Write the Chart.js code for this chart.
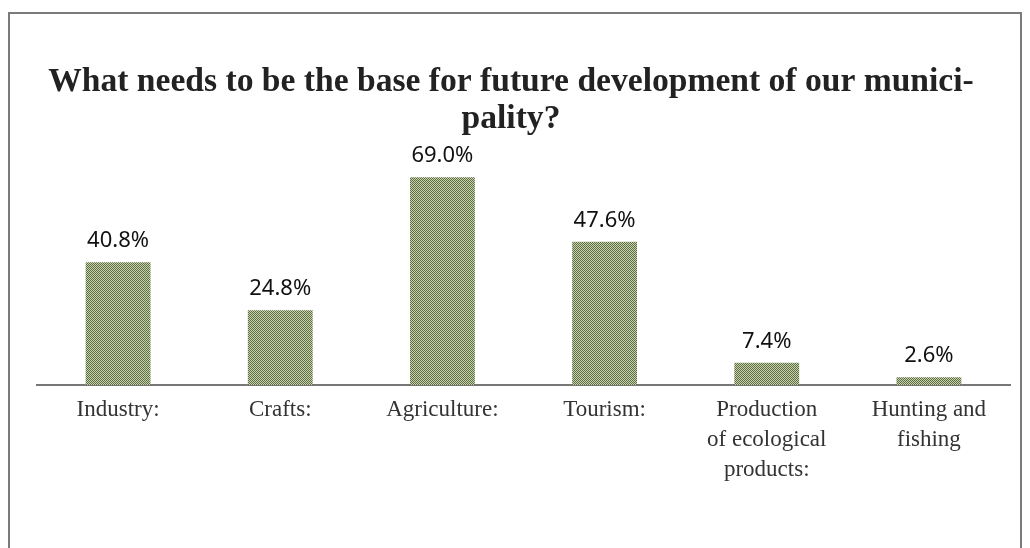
<!DOCTYPE html>
<html>
<head>
<meta charset="utf-8">
<script src="https://cdn.jsdelivr.net/npm/chart.js@4"></script>
<style>
  html, body { margin: 0; padding: 0; background: #fff; }
  #wrap { position: relative; width: 1030px; height: 548px; overflow: hidden; }
  #frame { position: absolute; left: 8px; top: 12px; width: 1014px; height: 560px; border: 2px solid #7b7b7b; box-sizing: border-box; }
  #chart { position: absolute; left: 0; top: 0; }
</style>
</head>
<body>
<div id="wrap">
  <div id="frame"></div>
  <canvas id="chart" width="1030" height="548"></canvas>
</div>
<script>
// Datos del gráfico
const categories = [
  'Industry:',
  'Crafts:',
  'Agriculture:',
  'Tourism:',
  ['Production', 'of ecological', 'products:'],
  ['Hunting and', 'fishing']
];
const shares = [40.8, 24.8, 69.0, 47.6, 7.4, 2.6];
const titleLines = ['What needs to be the base for future development of our munici-', 'pality?'];

// Trama punteada verde para las barras
function makePattern() {
  const c = document.createElement('canvas');
  c.width = 4; c.height = 4;
  const g = c.getContext('2d');
  for (let y = 0; y < 4; y++) {
    for (let x = 0; x < 4; x++) {
      g.fillStyle = (x + y) % 2 === 0 ? '#5d6f40' : '#c8d1b0';
      g.fillRect(x, y, 1, 1);
    }
  }
  return g.createPattern(c, 'repeat');
}

// Etiquetas de valor encima de cada barra
const valueLabels = {
  id: 'valueLabels',
  afterDatasetsDraw(chart) {
    const ctx = chart.ctx;
    const meta = chart.getDatasetMeta(0);
    ctx.save();
    ctx.font = '22px "Noto Sans"';
    ctx.fillStyle = '#111';
    ctx.textAlign = 'center';
    ctx.textBaseline = 'alphabetic';
    meta.data.forEach((bar, i) => {
      ctx.fillText(shares[i].toFixed(1) + '%', bar.x, bar.y - 15);
    });
    ctx.restore();
  }
};

const ctx = document.getElementById('chart');
new Chart(ctx, {
  type: 'bar',
  data: {
    labels: categories,
    datasets: [{
      data: shares,
      backgroundColor: makePattern(),
      borderWidth: 0,
      categoryPercentage: 1,
      barPercentage: 0.4
    }]
  },
  options: {
    responsive: false,
    animation: false,
    layout: { padding: { left: 12, right: 20, top: 64, bottom: 0 } },
    plugins: {
      legend: { display: false },
      tooltip: { enabled: false },
      title: {
        display: true,
        text: titleLines,
        color: '#222',
        font: { family: '"Liberation Serif"', size: 33.6, weight: 'bold', lineHeight: 1.09 },
        padding: { top: 0, bottom: 7 }
      }
    },
    scales: {
      y: {
        display: true,
        min: 0,
        max: 80,
        grid: { display: false, drawTicks: false },
        border: { display: false },
        ticks: { display: false },
        afterFit(scale) { scale.width = 25; }
      },
      x: {
        grid: { display: false, drawTicks: false },
        border: { display: true, color: '#777', width: 2 },
        ticks: {
          color: '#333',
          font: { family: '"Liberation Serif"', size: 23, lineHeight: 1.3 },
          padding: 10,
          maxRotation: 0,
          autoSkip: false
        },
        afterFit(scale) { scale.height = 163; }
      }
    }
  },
  plugins: [valueLabels]
});
</script>
</body>
</html>
